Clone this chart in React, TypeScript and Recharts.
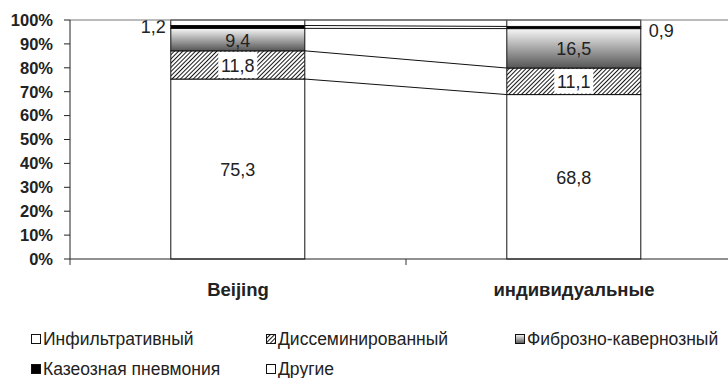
import React from 'react';
import { BarChart, Bar, XAxis, YAxis, ReferenceLine } from 'recharts';

const CATEGORIES = ['Beijing', 'индивидуальные'];
const INFILTR = [75.3, 68.8];
const DISSEM = [11.8, 11.1];
const FIBRO = [9.4, 16.5];
const CASEOUS = [1.2, 0.9];
const OTHER = [2.3, 2.7];
const Y_TICKS = [0, 10, 20, 30, 40, 50, 60, 70, 80, 90, 100];

const FONT = '"Liberation Sans", Arial, sans-serif';
const CHART_W = 760;
const CHART_H = 378;
const Y_W = 70;
const MARGIN = { top: 20, right: 18, left: 0, bottom: 79 };
const STEP = (CHART_W - MARGIN.left - MARGIN.right - Y_W) / CATEGORIES.length;

type LabelMode = 'inside' | 'boxed' | 'outside' | 'none';

const SERIES: { key: string; name: string; values: number[]; fill: string; label: LabelMode }[] = [
  { key: 'infiltr', name: 'Инфильтративный', values: INFILTR, fill: '#fff', label: 'inside' },
  { key: 'dissem', name: 'Диссеминированный', values: DISSEM, fill: 'url(#hatch)', label: 'boxed' },
  { key: 'fibro', name: 'Фиброзно-кавернозный', values: FIBRO, fill: 'url(#fibroGrad)', label: 'inside' },
  { key: 'caseous', name: 'Казеозная пневмония', values: CASEOUS, fill: '#000', label: 'outside' },
  { key: 'other', name: 'Другие', values: OTHER, fill: '#fff', label: 'none' },
];

const data = CATEGORIES.map((name, i) => {
  const row: Record<string, string | number> = { name };
  SERIES.forEach((s) => { row[s.key] = s.values[i]; });
  return row;
});

const cum = (s: number, cat: number) => {
  let t = 0;
  for (let k = 0; k <= s; k++) t += SERIES[k].values[cat];
  return t;
};

const fmt = (v: number) => v.toFixed(1).replace('.', ',');
const textW = (t: string) => t.split('').reduce((a, c) => a + (c === ',' ? 5 : 10), 0);

const makeShape = (s: number) => (props: any) => {
  const { x, y, width, height, index } = props;
  const ser = SERIES[s];
  const v = ser.values[index];
  const label = fmt(v);
  const cx = x + width / 2;
  const cy = y + height / 2;
  let seriesLine = null;
  if (index === 0 && height > 0) {
    const ppu = height / v;
    const zero = y + height + (s > 0 ? cum(s - 1, 0) : 0) * ppu;
    const nextY = zero - cum(s, 1) * ppu;
    seriesLine = <line x1={x + width} y1={y} x2={x + STEP} y2={nextY} stroke="#111" strokeWidth={1} />;
  }
  return (
    <g>
      <rect x={x} y={y} width={width} height={height} fill={ser.fill} stroke="#111" strokeWidth={1} />
      {seriesLine}
      {ser.label === 'boxed' && (
        <rect x={cx - textW(label) / 2 - 2} y={y + 1} width={textW(label) + 4} height={height - 2} fill="#fff" />
      )}
      {(ser.label === 'inside' || ser.label === 'boxed') && (
        <text x={cx} y={cy + 1} textAnchor="middle" dominantBaseline="central" fontSize={18} fontFamily={FONT} fill="#222">{label}</text>
      )}
      {ser.label === 'outside' && (
        <text
          x={index === 0 ? x - 5 : x + width + 8}
          y={cy + (index === 0 ? 0 : 3)}
          textAnchor={index === 0 ? 'end' : 'start'}
          dominantBaseline="central"
          fontSize={18}
          fontFamily={FONT}
          fill="#222"
        >{label}</text>
      )}
    </g>
  );
};

const XTick = (p: any) => {
  const { x, y, payload, index } = p;
  const half = STEP / 2;
  return (
    <g>
      <line x1={x - half} y1={y - 6} x2={x - half} y2={y} stroke="#333" />
      {index === CATEGORIES.length - 1 && <line x1={x + half} y1={y - 6} x2={x + half} y2={y} stroke="#333" />}
      <text x={x} y={y + 24} textAnchor="middle" dominantBaseline="central" fontSize={18.5} fontWeight="bold" fontFamily={FONT} fill="#222">
        {payload.value}
      </text>
    </g>
  );
};

const LegendIcon = ({ fill }: { fill: string }) => (
  <svg width={10} height={10} style={{ display: 'block' }}>
    <rect x={0.5} y={0.5} width={9} height={9} fill={fill} stroke="#111" />
  </svg>
);

const LEGEND_POS = [
  { left: 31, top: 339 },
  { left: 266, top: 339 },
  { left: 515, top: 339 },
  { left: 31, top: 369 },
  { left: 266, top: 369 },
];

export default function App() {
  return (
    <div style={{ position: 'absolute', left: 0, top: 0, width: 728, height: 378, overflow: 'hidden', background: '#fff' }}>
      <svg width={0} height={0} style={{ position: 'absolute' }}>
        <defs>
          <pattern id="hatch" patternUnits="userSpaceOnUse" width={3} height={3} patternTransform="rotate(45)">
            <rect width={3} height={3} fill="#fff" />
            <line x1={0} y1={0} x2={0} y2={3} stroke="#000" strokeWidth={1.8} />
          </pattern>
          <linearGradient id="fibroGrad" x1="0" y1="0" x2="0" y2="1">
            <stop offset="0%" stopColor="#f7f7f7" />
            <stop offset="100%" stopColor="#555" />
          </linearGradient>
        </defs>
      </svg>
      <BarChart width={CHART_W} height={CHART_H} data={data} margin={MARGIN} barCategoryGap="30%">
        <ReferenceLine y={100} stroke="#777" />
        <XAxis
          dataKey="name"
          height={40}
          axisLine={{ stroke: '#222' }}
          tickLine={false}
          tickSize={6}
          tickMargin={0}
          interval={0}
          tick={<XTick />}
        />
        <YAxis
          width={Y_W}
          domain={[0, 100]}
          ticks={Y_TICKS}
          tickFormatter={(v: number) => `${v}%`}
          axisLine={{ stroke: '#222' }}
          tickLine={{ stroke: '#222' }}
          tickSize={6}
          tickMargin={11}
          tick={{ fontSize: 16.5, fontWeight: 'bold', fontFamily: FONT, fill: '#222' }}
          interval={0}
        />
        {SERIES.map((s, i) => (
          <Bar key={s.key} dataKey={s.key} name={s.name} stackId="a" shape={makeShape(i)} isAnimationActive={false} />
        ))}
      </BarChart>
      {SERIES.map((s, i) => (
        <div
          key={s.key}
          style={{
            position: 'absolute',
            left: LEGEND_POS[i].left,
            top: LEGEND_POS[i].top - 10,
            height: 20,
            display: 'flex',
            alignItems: 'center',
            gap: 2,
            fontFamily: FONT,
            fontSize: 17.5,
            color: '#222',
            whiteSpace: 'nowrap',
          }}
        >
          <LegendIcon fill={s.fill} />
          <span>{s.name}</span>
        </div>
      ))}
    </div>
  );
}
